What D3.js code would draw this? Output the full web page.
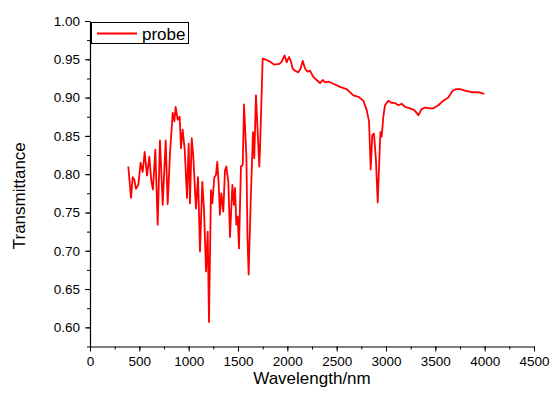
<!DOCTYPE html>
<html>
<head>
<meta charset="utf-8">
<script src="https://cdn.jsdelivr.net/npm/d3@7"></script>
<style>
  body { margin: 0; background: #fff; }
  svg text { font-family: Arial, "Liberation Sans", sans-serif; fill: #000; }
</style>
</head>
<body>
<div class="chart"></div>
<script>
// wavelength (nm) and transmittance
const wavelength = [388, 416, 432, 449, 466, 490, 513, 534, 554, 578, 601, 621, 638, 662, 686, 709, 737, 767, 787, 811,
  838, 855, 868, 889, 909, 922, 939, 960, 983, 1000, 1013, 1031, 1047, 1074, 1095, 1115, 1138, 1155, 1176, 1193,
  1206, 1226, 1240, 1260, 1277, 1290, 1304, 1317, 1331, 1351, 1368, 1382, 1402, 1419, 1443, 1459, 1470, 1483, 1497, 1510,
  1530, 1548, 1561, 1585, 1596, 1608, 1628, 1652, 1665, 1682, 1716, 1723, 1750, 1774, 1824, 1868, 1919, 1943, 1973, 1993,
  2017, 2037, 2054, 2078, 2111, 2135, 2156, 2179, 2202, 2230, 2263, 2297, 2331, 2358, 2382, 2415, 2466, 2534, 2601, 2669,
  2720, 2770, 2804, 2828, 2845, 2861, 2878, 2898, 2916, 2943, 2956, 2973, 2990, 3024, 3057, 3091, 3125, 3158, 3192, 3243,
  3284, 3304, 3328, 3361, 3395, 3446, 3480, 3530, 3581, 3631, 3676, 3710, 3750, 3800, 3868, 3935, 3996];
const transmittance = [0.810, 0.769, 0.796, 0.793, 0.781, 0.786, 0.815, 0.803, 0.829, 0.798, 0.823, 0.792, 0.780, 0.832, 0.734, 0.844, 0.760, 0.844, 0.761, 0.827,
  0.880, 0.869, 0.888, 0.871, 0.875, 0.834, 0.858, 0.832, 0.769, 0.840, 0.762, 0.847, 0.823, 0.755, 0.796, 0.699, 0.790, 0.755, 0.673, 0.725,
  0.607, 0.779, 0.762, 0.796, 0.799, 0.816, 0.788, 0.747, 0.775, 0.751, 0.805, 0.810, 0.790, 0.718, 0.786, 0.760, 0.782, 0.734, 0.745, 0.703,
  0.810, 0.812, 0.891, 0.823, 0.718, 0.669, 0.762, 0.855, 0.821, 0.903, 0.810, 0.832, 0.951, 0.950, 0.947, 0.943, 0.944, 0.947, 0.955, 0.946,
  0.953, 0.947, 0.938, 0.935, 0.933, 0.938, 0.948, 0.938, 0.934, 0.935, 0.927, 0.923, 0.919, 0.923, 0.920, 0.921, 0.918, 0.914, 0.911, 0.903,
  0.901, 0.896, 0.884, 0.869, 0.806, 0.851, 0.853, 0.819, 0.763, 0.855, 0.849, 0.875, 0.890, 0.896, 0.893, 0.893, 0.890, 0.892, 0.888, 0.886,
  0.884, 0.881, 0.877, 0.885, 0.887, 0.886, 0.886, 0.890, 0.896, 0.900, 0.909, 0.911, 0.911, 0.909, 0.907, 0.907, 0.905];

const xTicks = [0, 500, 1000, 1500, 2000, 2500, 3000, 3500, 4000, 4500];
const yTicks = [0.60, 0.65, 0.70, 0.75, 0.80, 0.85, 0.90, 0.95, 1.00];
const seriesName = 'probe';

const width = 550;
const height = 401;

const x = d3.scaleLinear().domain([0, 4500]).range([90, 534]);
const y = d3.scaleLinear().domain([0.575, 1.0]).range([346.5, 21]);

const svg = d3.select('.chart').append('svg')
    .attr('width', width)
    .attr('height', height);

const data = wavelength.map((w, i) => ({ w: w, t: transmittance[i] }));

// minor ticks first, then the major axes on top
const xMinor = d3.range(0, 4501, 250);
const yMinor = d3.range(0, 18).map(i => 0.575 + i * 0.025);

svg.append('g')
    .attr('transform', `translate(0, ${y(0.575)})`)
    .call(d3.axisBottom(x).tickValues(xMinor).tickSize(3).tickFormat(''))
    .call(g => g.select('.domain').remove());

svg.append('g')
    .attr('transform', `translate(${x(0)}, 0)`)
    .call(d3.axisLeft(y).tickValues(yMinor).tickSize(3).tickFormat(''))
    .call(g => g.select('.domain').remove());

const xAxis = svg.append('g')
    .attr('transform', `translate(0, ${y(0.575)})`)
    .call(d3.axisBottom(x).tickValues(xTicks).tickSize(5).tickSizeOuter(0).tickPadding(5)
      .tickFormat(d3.format('d')));

const yAxis = svg.append('g')
    .attr('transform', `translate(${x(0)}, 0)`)
    .call(d3.axisLeft(y).tickValues(yTicks).tickSize(5).tickSizeOuter(0).tickPadding(5)
      .tickFormat(d3.format('.2f')));

[xAxis, yAxis].forEach(g => {
  g.selectAll('text').style('font-size', '13.5px').attr('fill', '#000');
  g.selectAll('line').attr('stroke', '#000');
  g.select('.domain').attr('stroke', '#000').attr('stroke-width', 1.2);
});

// the spectrum
const line = d3.line()
    .x(d => x(d.w))
    .y(d => y(d.t));

svg.append('path')
    .datum(data)
    .attr('fill', 'none')
    .attr('stroke', '#ff0000')
    .attr('stroke-width', 1.8)
    .attr('stroke-linejoin', 'round')
    .attr('d', line);

// axis titles
svg.append('text')
    .attr('x', (x(0) + x(4500)) / 2)
    .attr('y', 384)
    .attr('text-anchor', 'middle')
    .style('font-size', '17px')
    .text('Wavelength/nm');

svg.append('text')
    .attr('transform', `translate(25, ${(y(0.575) + y(1.0)) / 2 + 12}) rotate(-90)`)
    .attr('text-anchor', 'middle')
    .style('font-size', '17px')
    .text('Transmittance');

// legend
const legend = svg.append('g');
legend.append('rect')
    .attr('x', 91.5).attr('y', 22.5)
    .attr('width', 97).attr('height', 21)
    .attr('fill', '#fff')
    .attr('stroke', '#000')
    .attr('stroke-width', 1);
legend.append('line')
    .attr('x1', 97).attr('x2', 137)
    .attr('y1', 33.5).attr('y2', 33.5)
    .attr('stroke', '#ff0000')
    .attr('stroke-width', 1.8);
legend.append('text')
    .attr('x', 142).attr('y', 39.5)
    .style('font-size', '17px')
    .text(seriesName);
</script>
</body>
</html>
